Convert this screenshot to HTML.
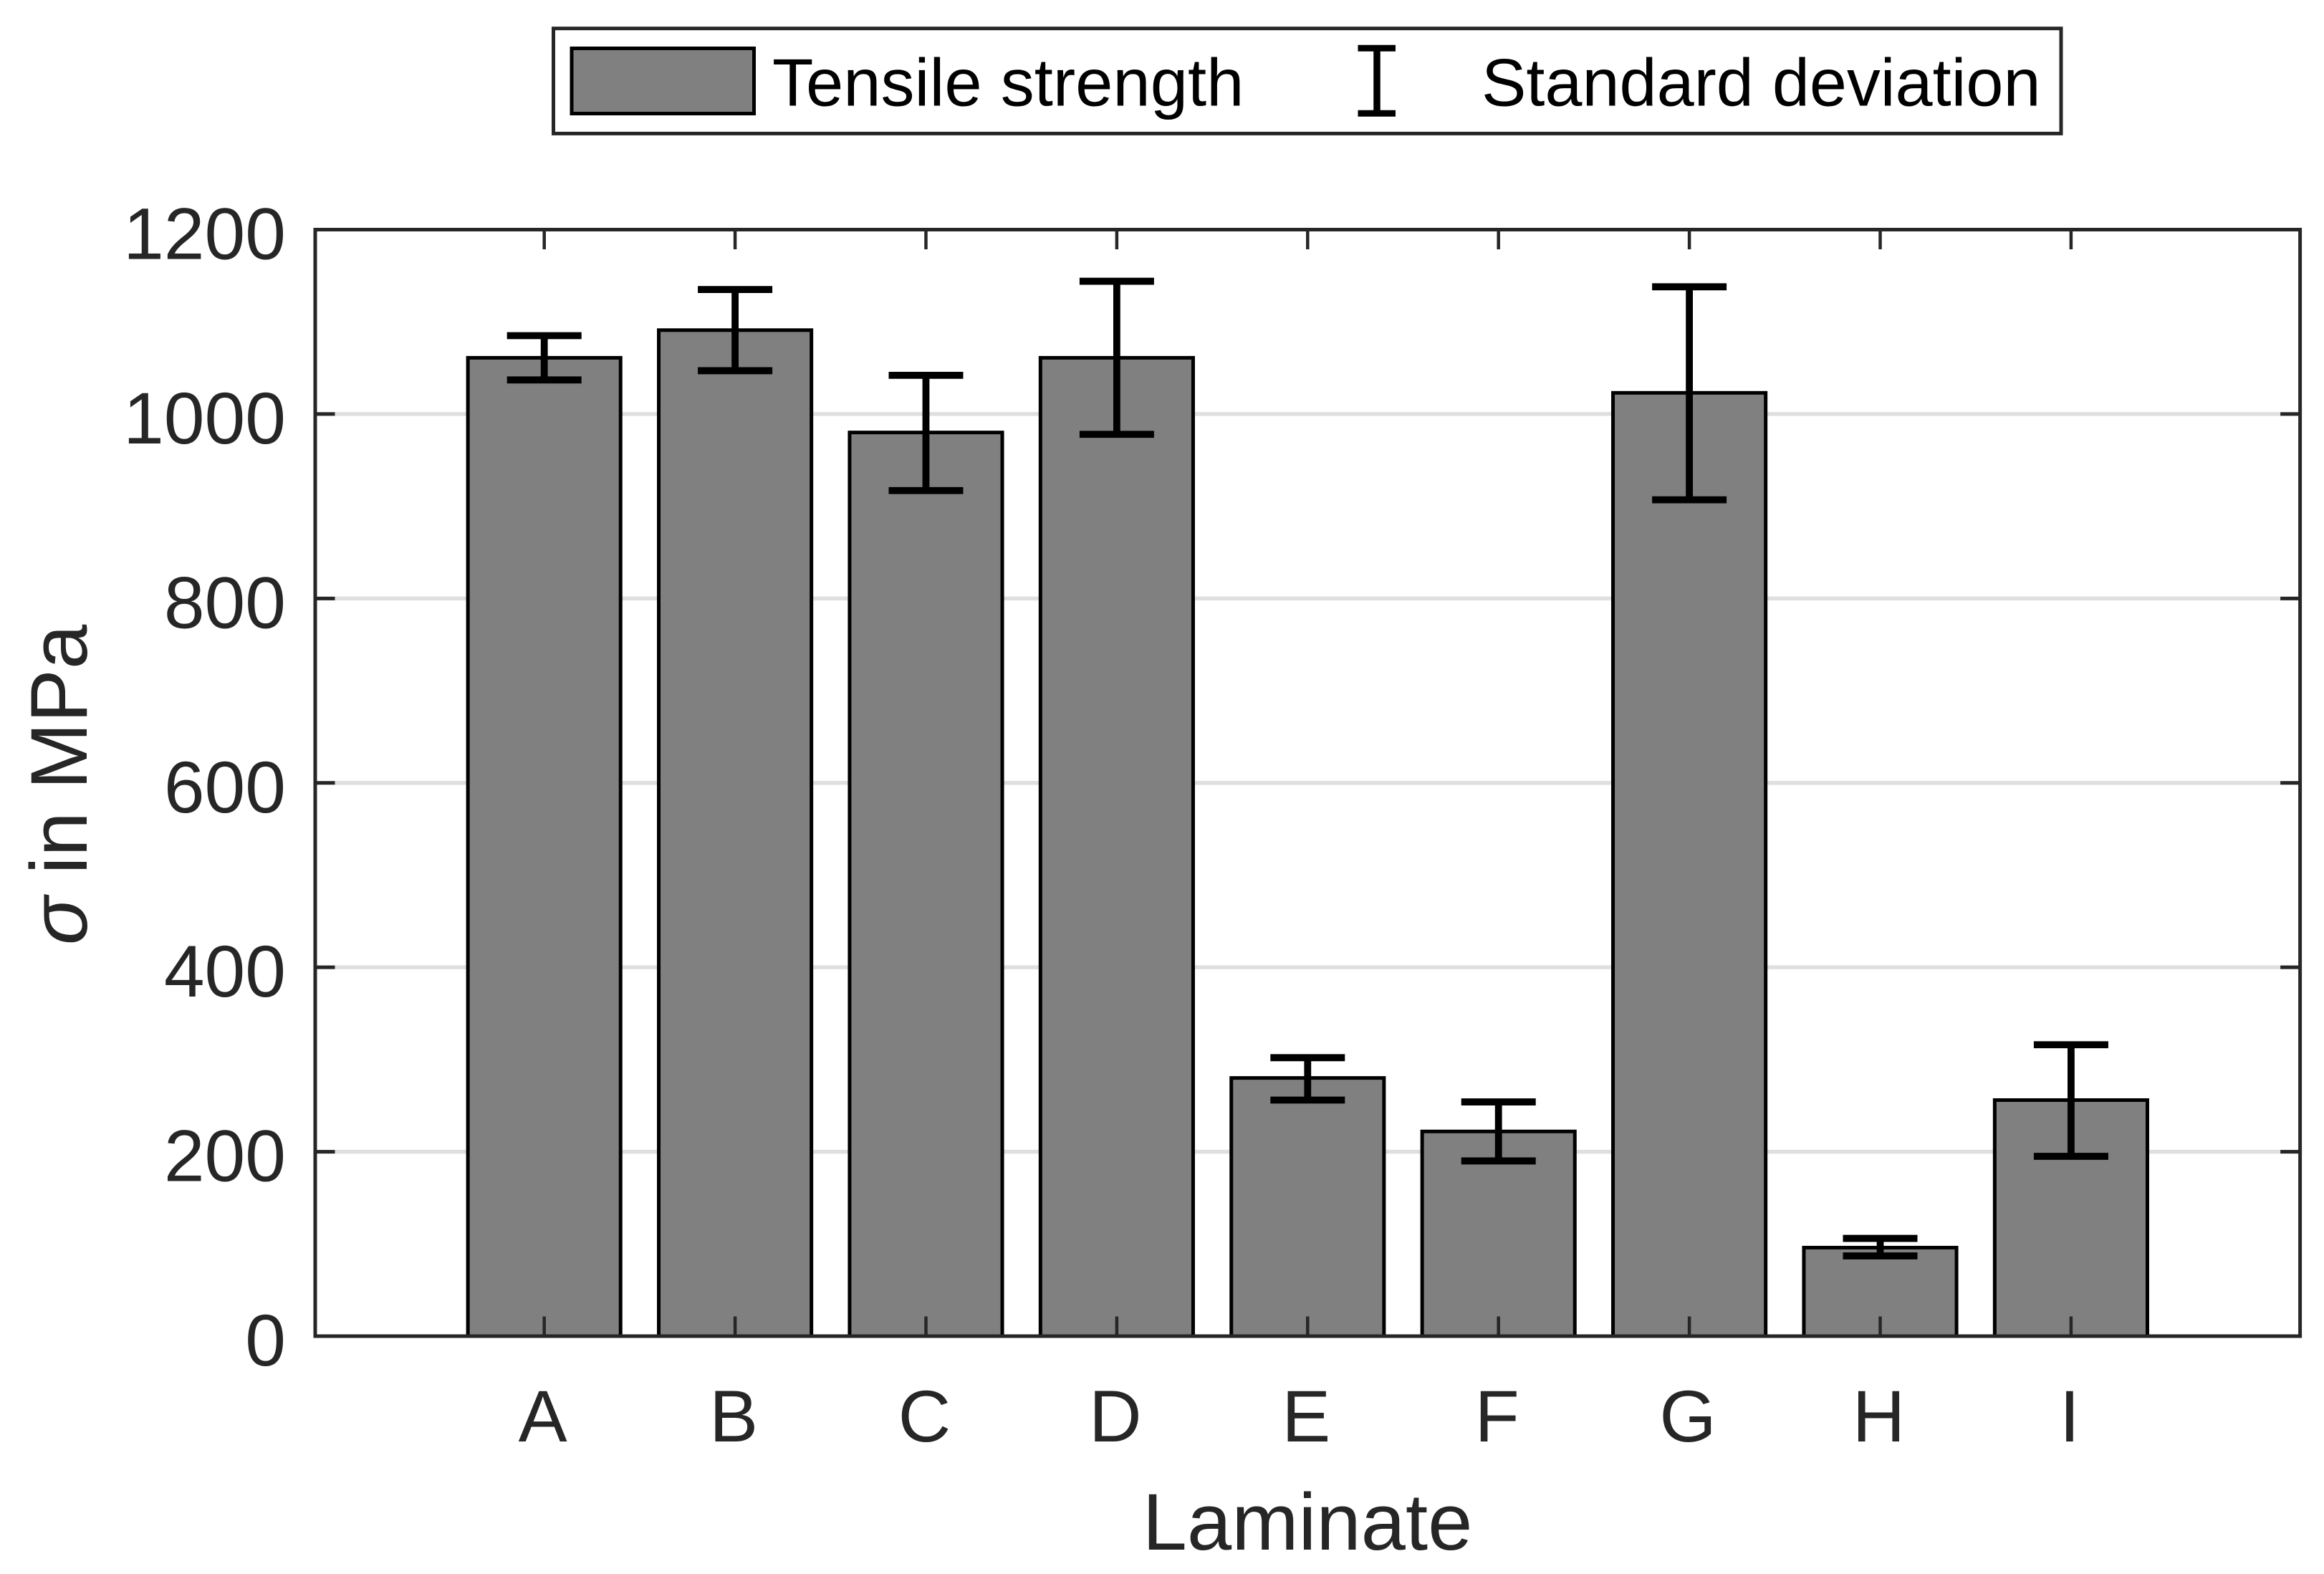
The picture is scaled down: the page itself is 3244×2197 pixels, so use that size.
<!DOCTYPE html>
<html lang="en">
<head>
<meta charset="utf-8">
<title>Tensile strength by laminate</title>
<style>
html,body{margin:0;padding:0;background:#fff;}
body{width:3244px;height:2197px;overflow:hidden;}
svg{display:block;}
text{font-family:"Liberation Sans",Arial,sans-serif;}
</style>
</head>
<body>
<svg id="chart" xmlns="http://www.w3.org/2000/svg" width="3244" height="2197" viewBox="0 0 3244 2197">
  <rect x="0" y="0" width="3244" height="2197" fill="#ffffff"/>
  <g id="grid"></g>
  <g id="bars"></g>
  <g id="errors"></g>
  <g id="axes"></g>
  <g id="labels"></g>
  <text x="1825" y="2163" font-size="112" fill="#262626" text-anchor="middle">Laminate</text>
  <text transform="translate(121,1319) rotate(-90)" font-size="112" fill="#262626"><tspan font-style="italic">σ</tspan> in MPa</text>
  <g>
    <rect x="772.5" y="39.7" width="2104.5" height="146.7" fill="#ffffff" stroke="#262626" stroke-width="5"/>
    <rect x="798" y="67.5" width="254.5" height="91" fill="#808080" stroke="#000000" stroke-width="5"/>
    <text x="1078" y="147.5" font-size="94" fill="#000000">Tensile strength</text>
    <g stroke="#000000" stroke-width="9" fill="none">
      <line x1="1922" y1="67.3" x2="1922" y2="158.3" stroke-width="9.5"/>
      <line x1="1895.5" y1="67.3" x2="1948" y2="67.3"/>
      <line x1="1895.5" y1="158.3" x2="1948" y2="158.3"/>
    </g>
    <text x="2068" y="147.5" font-size="93.6" fill="#000000">Standard deviation</text>
  </g>
</svg>
<script>
const categories = ["A","B","C","D","E","F","G","H","I"];
const strength = [1061,1091,980,1061,280,222,1023,96,256];
const errorUpper = [1085,1135,1042,1144,302,254,1138,106,316];
const errorLower = [1037,1047,917,978,256,190,907,87,195];
const yTicks = [0,200,400,600,800,1000,1200];

const NS = "http://www.w3.org/2000/svg";
const plotLeft = 440, plotRight = 3210.6, plotTop = 320.5, plotBottom = 1865;
const xMin = -0.2, xMax = 10.2, yMin = 0, yMax = 1200;
const barUnits = 0.8, capHalf = 52, tickLen = 27.5;
const axisColor = "#262626";

function xScale(v){ return plotLeft + (v - xMin) / (xMax - xMin) * (plotRight - plotLeft); }
function yScale(v){ return plotBottom - (v - yMin) / (yMax - yMin) * (plotBottom - plotTop); }
function make(tag, attrs){
  const el = document.createElementNS(NS, tag);
  for (const k in attrs) el.setAttribute(k, attrs[k]);
  return el;
}

const gridG = document.getElementById("grid");
const barsG = document.getElementById("bars");
const errG = document.getElementById("errors");
const axesG = document.getElementById("axes");
const labelsG = document.getElementById("labels");

yTicks.forEach(function(t){
  const y = yScale(t);
  if (t !== yMin && t !== yMax) {
    const g = make("line", {x1: plotLeft, x2: plotRight, y1: y, y2: y, stroke: "#dfdfdf", "stroke-width": 5.5});
    
    
    gridG.appendChild(g);
  }
  const left = make("line", {x1: plotLeft, x2: plotLeft + tickLen, y1: y, y2: y, stroke: axisColor, "stroke-width": 5});
  
  
  axesG.appendChild(left);
  const right = make("line", {x1: plotRight, x2: plotRight - tickLen, y1: y, y2: y, stroke: axisColor, "stroke-width": 5});
  
  
  axesG.appendChild(right);
  const label = make("text", {x: 399, y: y + 41, "font-size": 102, fill: axisColor, "text-anchor": "end"});
  
  
  label.textContent = String(t);
  labelsG.appendChild(label);
});

categories.forEach(function(cat, i){
  const pos = i + 1;
  const cx = xScale(pos);
  const bw = xScale(pos + barUnits / 2) - xScale(pos - barUnits / 2);
  const top = yScale(strength[i]);
  const bar = make("rect", {x: cx - bw / 2, y: top, width: bw, height: yScale(0) - top, fill: "#808080", stroke: "#000000", "stroke-width": 5});
  
  
  barsG.appendChild(bar);

  const hi = yScale(errorUpper[i]), lo = yScale(errorLower[i]);
  const eb = make("g", {stroke: "#000000", "stroke-width": 9.8, fill: "none"});
  
  
  eb.appendChild(make("line", {x1: cx, x2: cx, y1: hi, y2: lo}));
  eb.appendChild(make("line", {x1: cx - capHalf, x2: cx + capHalf, y1: hi, y2: hi}));
  eb.appendChild(make("line", {x1: cx - capHalf, x2: cx + capHalf, y1: lo, y2: lo}));
  errG.appendChild(eb);

  const bottomTick = make("line", {x1: cx, x2: cx, y1: plotBottom, y2: plotBottom - tickLen, stroke: axisColor, "stroke-width": 4.5});
  
  
  axesG.appendChild(bottomTick);
  const topTick = make("line", {x1: cx, x2: cx, y1: plotTop, y2: plotTop + tickLen, stroke: axisColor, "stroke-width": 4.5});
  
  
  axesG.appendChild(topTick);

  const label = make("text", {x: cx - 2, y: 2012, "font-size": 102, fill: axisColor, "text-anchor": "middle"});
  
  
  label.textContent = cat;
  labelsG.appendChild(label);
});

const box = make("rect", {x: plotLeft, y: plotTop, width: plotRight - plotLeft, height: plotBottom - plotTop, fill: "none", stroke: axisColor, "stroke-width": 5});


axesG.appendChild(box);
</script>
</body>
</html>
